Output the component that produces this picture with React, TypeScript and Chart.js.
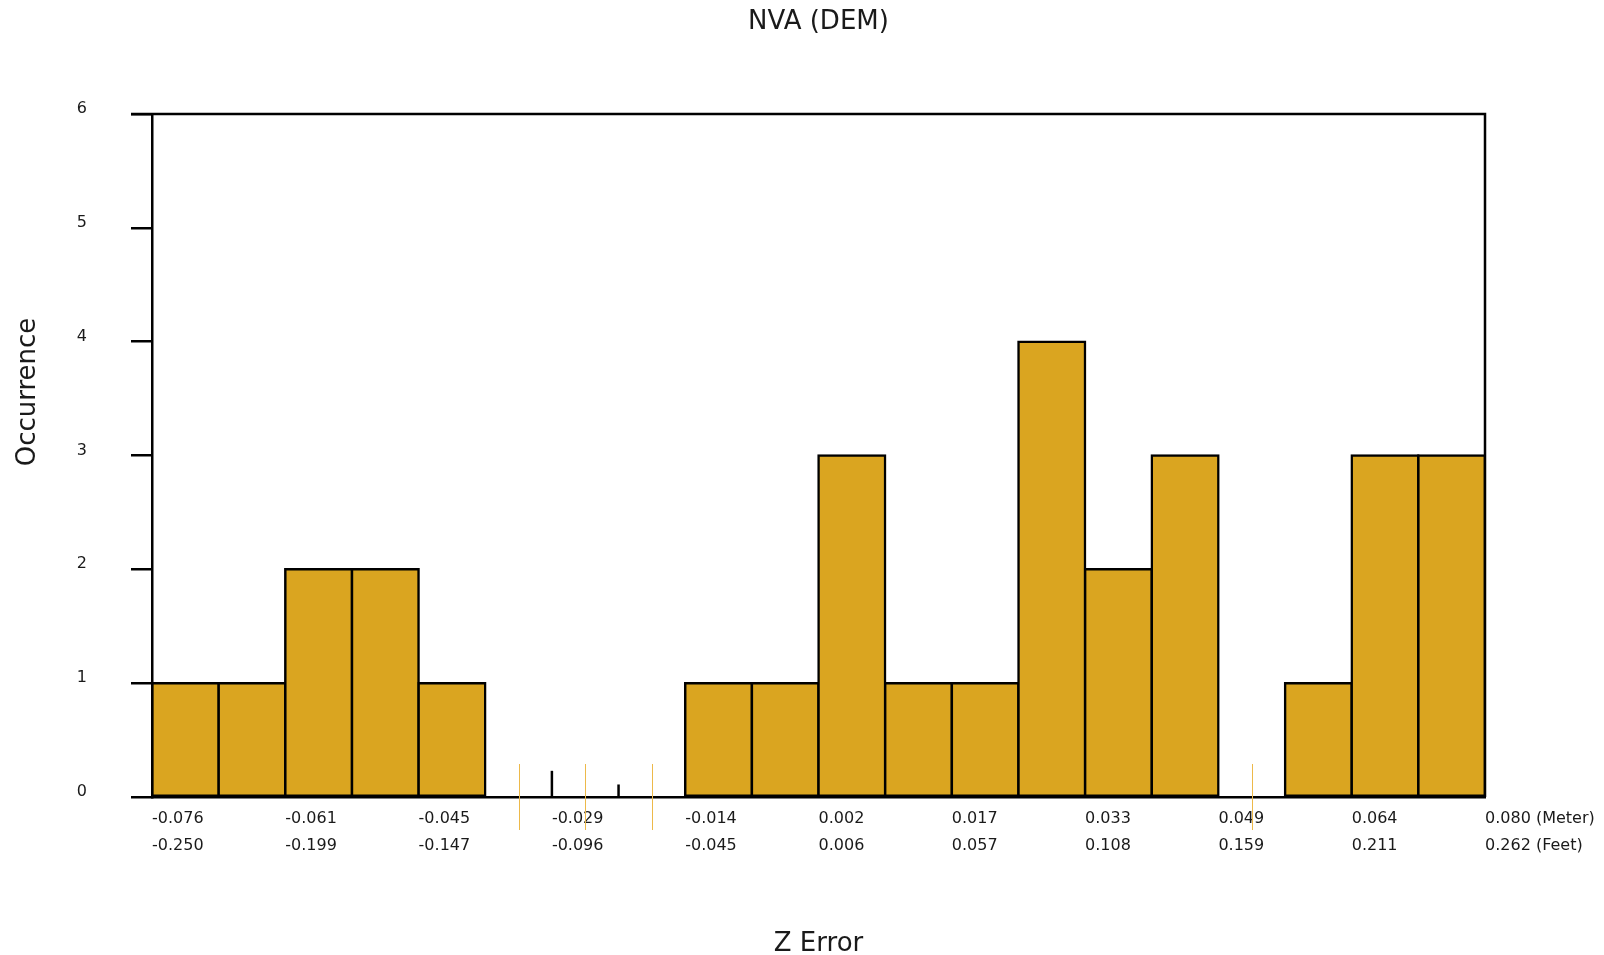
import React, { useEffect, useRef } from 'react';
import { Chart, registerables } from 'chart.js';

Chart.register(...registerables);

// Histogram of Z error, 20 bins
const counts = [1, 1, 2, 2, 1, 0, 0, 0, 1, 1, 3, 1, 1, 4, 2, 3, 0, 1, 3, 3];
// Labels at every second bin edge
const meterLabels = ['-0.076', '-0.061', '-0.045', '-0.029', '-0.014', '0.002', '0.017', '0.033', '0.049', '0.064', '0.080'];
const feetLabels = ['-0.250', '-0.199', '-0.147', '-0.096', '-0.045', '0.006', '0.057', '0.108', '0.159', '0.211', '0.262'];
const yTicks = [0, 1, 2, 3, 4, 5, 6];
// small black spikes at bin edges (edge index, height in occurrences)
const spikeEdges = [6, 7];
const spikeHeights = [0.23, 0.11];

const TITLE = 'NVA (DEM)';
const X_TITLE = 'Z Error';
const Y_TITLE = 'Occurrence';
const FONT = '"DejaVu Sans", Verdana, sans-serif';
const TEXT = '#1a1a1a';
const LW = 2.5;

export default function App() {
  const ref = useRef<HTMLCanvasElement | null>(null);

  useEffect(() => {
    if (!ref.current) return;
    const last = meterLabels.length - 1;

    const decor = {
      id: 'decor',
      afterDatasetsDraw(chart: any) {
        const { ctx, chartArea, scales } = chart;
        const xs = scales.x;
        const ys = scales.y;
        ctx.save();
        ctx.strokeStyle = '#000';
        ctx.lineWidth = LW;
        ctx.beginPath();
        ctx.moveTo(chartArea.left - 21, chartArea.top);
        ctx.lineTo(chartArea.right, chartArea.top);
        ctx.lineTo(chartArea.right, chartArea.bottom);
        ctx.stroke();
        const base = ys.getPixelForValue(0);
        spikeEdges.forEach((e, i) => {
          const x = xs.getPixelForValue(e);
          ctx.beginPath();
          ctx.moveTo(x, base);
          ctx.lineTo(x, ys.getPixelForValue(spikeHeights[i]));
          ctx.stroke();
        });
        ctx.restore();
      },
      afterDraw(chart: any) {
        const { ctx, chartArea, scales } = chart;
        const xs = scales.x;
        const ys = scales.y;
        ctx.save();
        const base = ys.getPixelForValue(0);
        ctx.strokeStyle = '#EDB94A';
        ctx.lineWidth = 1;
        counts.forEach((c, i) => {
          if (c !== 0) return;
          const x = Math.round(xs.getPixelForValue(i + 0.5)) + 0.5;
          ctx.beginPath();
          ctx.moveTo(x, base - 33);
          ctx.lineTo(x, base + 33);
          ctx.stroke();
        });
        const cx = (chartArea.left + chartArea.right) / 2;
        ctx.fillStyle = TEXT;
        ctx.font = `26px ${FONT}`;
        ctx.textAlign = 'center';
        ctx.textBaseline = 'alphabetic';
        ctx.fillText(TITLE, cx, 29);
        ctx.fillText(X_TITLE, cx, 951);
        ctx.translate(35, 392);
        ctx.rotate(-Math.PI / 2);
        ctx.fillText(Y_TITLE, 0, 0);
        ctx.restore();
      },
    };

    const chart = new Chart(ref.current, {
      type: 'bar',
      data: {
        datasets: [
          {
            data: counts.map((c, i) => ({ x: i + 0.5, y: c })),
            backgroundColor: '#DAA520',
            borderColor: '#000',
            borderWidth: LW,
            borderSkipped: false,
            inflateAmount: LW / 2,
            barPercentage: 1,
            categoryPercentage: 1,
          } as any,
        ],
      },
      options: {
        animation: false,
        responsive: false,
        maintainAspectRatio: false,
        devicePixelRatio: 1,
        layout: { padding: { top: 114, right: 119, bottom: 0, left: 0 } },
        plugins: {
          legend: { display: false },
          tooltip: { enabled: false },
          title: { display: false },
        },
        scales: {
          x: {
            type: 'linear',
            min: 0,
            max: counts.length,
            offset: false,
            afterFit(s: any) {
              s.height = 158;
            },
            afterBuildTicks(s: any) {
              s.ticks = meterLabels.map((_, i) => ({ value: (i * counts.length) / last }));
            },
            ticks: {
              autoSkip: false,
              maxRotation: 0,
              minRotation: 0,
              align: 'start',
              padding: 8,
              color: TEXT,
              font: { family: FONT, size: 16, lineHeight: 27 / 16 },
              callback: (v: any) => {
                const i = Math.round((Number(v) * last) / counts.length);
                return [
                  meterLabels[i] + (i === last ? ' (Meter)' : ''),
                  feetLabels[i] + (i === last ? ' (Feet)' : ''),
                ];
              },
            },
            grid: { display: false, drawTicks: false, offset: false },
            border: { display: true, color: '#000', width: LW, z: 1 } as any,
          },
          y: {
            min: 0,
            max: 6,
            afterFit(s: any) {
              s.width = 152;
            },
            afterBuildTicks(s: any) {
              s.ticks = yTicks.map((v) => ({ value: v }));
            },
            ticks: {
              padding: 44,
              crossAlign: 'center',
              labelOffset: -5,
              color: TEXT,
              font: { family: FONT, size: 16 },
            },
            grid: {
              display: true,
              drawOnChartArea: false,
              drawTicks: true,
              tickLength: 21,
              color: '#000',
              lineWidth: LW,
            },
            border: { display: true, color: '#000', width: LW, z: 1 } as any,
          },
        },
      } as any,
      plugins: [decor],
    });

    return () => chart.destroy();
  }, []);

  return (
    <canvas
      ref={ref}
      width={1604}
      height={955}
      style={{ position: 'fixed', left: 0, top: 0, width: 1604, height: 955 }}
    />
  );
}
